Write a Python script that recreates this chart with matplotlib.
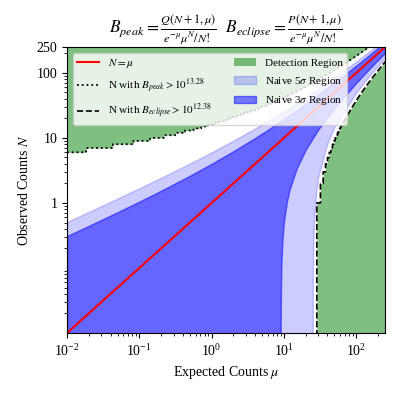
import numpy as np
import matplotlib
matplotlib.use("Agg")
import matplotlib.pyplot as plt
from matplotlib.ticker import NullFormatter

plt.rcParams['font.family'] = ['Liberation Serif', 'DejaVu Serif']
plt.rcParams['mathtext.fontset'] = 'stix'

# N = mu reference line
mu_line = [0.01, 250]

# naive 3 sigma band
mu3 = [0.01, 0.02, 0.05, 0.1, 0.2, 0.5, 1, 2, 4, 6, 8, 9, 9.02, 9.05, 9.1,
       9.2, 9.5, 10, 11, 12, 15, 20, 30, 50, 100, 150, 250]
hi3 = [0.31, 0.444, 0.721, 1.049, 1.542, 2.621, 4.0, 6.243, 10.0, 13.35,
       16.49, 18.0, 18.03, 18.08, 18.15, 18.3, 18.75, 19.49, 20.95, 22.39,
       26.62, 33.42, 46.43, 71.21, 130.0, 186.7, 297.4]
lo3 = [0, 0, 0, 0, 0, 0, 0, 0, 0, 0, 0, 0, 0.01, 0.025, 0.0501, 0.1006,
       0.2534, 0.513, 1.05, 1.608, 3.381, 6.584, 13.568, 28.787, 70.0,
       113.26, 202.57]

# naive 5 sigma band
mu5 = [0.01, 0.02, 0.05, 0.1, 0.2, 0.5, 1, 2, 4, 6, 8, 10, 15, 20, 25,
       25.02, 25.05, 25.1, 25.2, 25.5, 26, 28, 30, 40, 50, 100, 150, 250]
hi5 = [0.51, 0.727, 1.168, 1.681, 2.436, 4.036, 6.0, 9.071, 14.0, 18.25,
       22.14, 25.81, 34.36, 42.36, 50.0, 50.03, 50.07, 50.15, 50.3, 50.75,
       51.5, 54.46, 57.39, 71.62, 85.36, 150.0, 211.2, 329.1]
lo5 = [0, 0, 0, 0, 0, 0, 0, 0, 0, 0, 0, 0, 0, 0, 0, 0.01, 0.025, 0.05,
       0.1002, 0.2512, 0.505, 1.542, 2.614, 8.377, 14.645, 50.0, 88.76,
       170.94]

# B_peak threshold staircase: step edges in mu and N level on each step
peak_edges = [0.01, 0.01837, 0.04311, 0.0832, 0.1409, 0.2175, 0.3134,
              0.4287, 0.5632, 0.7163, 0.8874, 1.0758, 1.2809, 1.5017,
              1.7378, 1.9885, 2.2527, 2.5302, 2.8205, 3.1227, 3.4368,
              3.7617, 4.0971, 4.4429, 4.7981, 5.1623]
peak_levels = list(range(6, 31))
# where the steps get too small to see
peak_tail_mu = [9.252, 13.98, 19.18, 30.61, 43.03, 56.17, 76.87, 113.2, 151.2]
peak_tail_N = [40, 50, 60, 80, 100, 120, 150, 200, 250]

# B_eclipse threshold staircase
ecl_edges = [28.506, 31.97, 34.92, 37.595, 40.094, 42.462, 44.731, 46.92,
             49.043, 51.11, 53.129, 55.105, 57.045, 58.95, 60.827, 62.677]
ecl_levels = list(range(1, 16))
ecl_tail_mu = [71.59, 88.25, 103.94, 118.97, 133.54, 147.76, 161.68,
               188.88, 215.39, 241.38, 254.21]
ecl_tail_N = [20, 30, 40, 50, 60, 70, 80, 100, 120, 140, 150]

FLOOR = 1e-3
TOP = 1e4


def stairs_xy(edges, levels):
	x = np.repeat(np.asarray(edges, float), 2)[1:-1]
	y = np.repeat(np.asarray(levels, float), 2)
	return x, y


fig = plt.figure(figsize=(4, 4), dpi=100)
ax = fig.add_axes([0.1675, 0.1675, 0.795, 0.715])

# detection regions
px, py = stairs_xy(peak_edges, peak_levels)
px = np.concatenate([px, peak_tail_mu])
py = np.concatenate([py, peak_tail_N])
ex, ey = stairs_xy(ecl_edges, ecl_levels)
ex = np.concatenate([[ecl_edges[0]], ex, ecl_tail_mu])
ey = np.concatenate([[FLOOR], ey, ecl_tail_N])

ax.fill_between(px, py, TOP, color='green', alpha=0.5, lw=0,
				label='Detection Region')
ax.fill_between(ex, FLOOR, ey, color='green', alpha=0.5, lw=0)

# naive bands
ax.fill_between(mu5, np.clip(lo5, FLOOR, None), hi5, color='blue',
				alpha=0.2, label=r'Naive 5$\sigma$ Region')
ax.fill_between(mu3, np.clip(lo3, FLOOR, None), hi3, color='blue',
				alpha=0.5, label=r'Naive 3$\sigma$ Region')

h_line, = ax.plot(mu_line, mu_line, color='red', lw=1.5, label=r'$N=\mu$')
h_peak, = ax.plot(px, py, color='black', ls=':', lw=1.3,
				  label=r'N with $B_{peak}>10^{13.28}$')
h_ecl, = ax.plot(ex, ey, color='black', ls='--', lw=1.2,
				 label=r'N with $B_{eclipse}>10^{12.38}$')

ax.set_xscale('log')
ax.set_yscale('log')
ax.set_xlim(0.01, 250)
ax.set_ylim(0.01, 250)
ax.set_yticks([1, 10, 100, 250])
ax.set_yticklabels(['1', '10', '100', '250'])
ax.yaxis.set_minor_formatter(NullFormatter())
ax.tick_params(labelsize=10)

ax.set_xlabel(r'Expected Counts $\mu$', fontsize=10)
ax.set_ylabel(r'Observed Counts $N$', fontsize=10)
ax.set_title(r'$B_{peak}=\frac{Q(N+1,\mu)}{e^{-\mu}\mu^N/N!}$  '
			 r'$B_{eclipse}=\frac{P(N+1,\mu)}{e^{-\mu}\mu^N/N!}$',
			 fontsize=12.5)

handles, labels = ax.get_legend_handles_labels()
order = [3, 4, 5, 0, 1, 2]
ax.legend([handles[i] for i in order], [labels[i] for i in order],
		  ncol=2, loc='upper left', fontsize=8, labelspacing=0.6)

fig.savefig('out.png', dpi=100)
